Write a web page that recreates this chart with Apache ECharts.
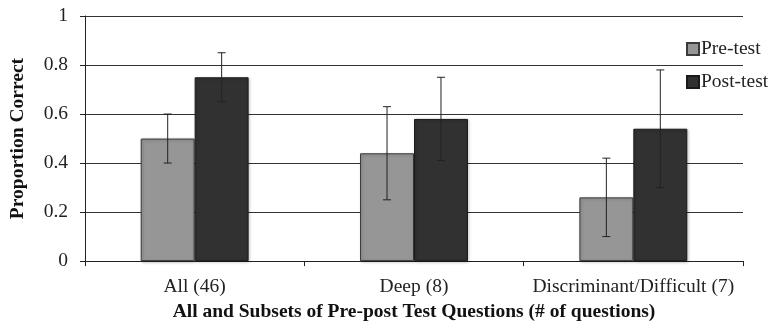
<!DOCTYPE html>
<html><head><meta charset="utf-8">
<script src="https://cdn.jsdelivr.net/npm/echarts@6/dist/echarts.min.js"></script>
<style>html,body{margin:0;padding:0;background:#fff}#c{width:771px;height:327px}</style>
</head><body><div id="c"></div>
<script>
const categories = ['All (46)', 'Deep (8)', 'Discriminant/Difficult (7)'];
const preTest = [0.50, 0.44, 0.26];
const postTest = [0.75, 0.58, 0.54];
const preLow = [0.40, 0.25, 0.10];
const preHigh = [0.60, 0.63, 0.42];
const postLow = [0.65, 0.41, 0.30];
const postHigh = [0.85, 0.75, 0.78];
const yTicks = [0, 0.2, 0.4, 0.6, 0.8, 1];

const BAR_FRAC = 0.246;
const font = 'Liberation Serif';

function errData(low, high) {
  return categories.map((c, i) => [i, low[i], high[i]]);
}
function errRender(sign) {
  return function (params, api) {
    const idx = api.value(0);
    const band = api.size([1, 0])[0];
    const off = sign * band * BAR_FRAC / 2;
    const lo = api.coord([idx, api.value(1)]);
    const hi = api.coord([idx, api.value(2)]);
    const x = lo[0] + off;
    const cap = 4;
    const style = { stroke: '#222', lineWidth: 1 };
    return {
      type: 'group',
      children: [
        { type: 'line', shape: { x1: x, y1: lo[1], x2: x, y2: hi[1] }, style },
        { type: 'line', shape: { x1: x - cap, y1: lo[1], x2: x + cap, y2: lo[1] }, style },
        { type: 'line', shape: { x1: x - cap, y1: hi[1], x2: x + cap, y2: hi[1] }, style }
      ]
    };
  };
}

const chart = echarts.init(document.getElementById('c'), null, { renderer: 'canvas' });
chart.setOption({
  animation: false,
  backgroundColor: '#fff',
  textStyle: { fontFamily: font },
  grid: { left: 84, right: 28, top: 16, bottom: 64, containLabel: false },
  legend: {
    orient: 'vertical',
    left: 681,
    top: 34,
    itemWidth: 12,
    itemHeight: 12,
    itemGap: 13,
    icon: 'rect',
    textStyle: { fontFamily: font, fontSize: 19.5, color: '#222', padding: [0, 0, 0, -3] },
    data: ['Pre-test', 'Post-test']
  },
  xAxis: {
    type: 'category',
    data: categories,
    axisLine: { lineStyle: { color: '#222', width: 1 } },
    axisTick: { show: true, interval: 0, length: 5, lineStyle: { color: '#222' } },
    axisLabel: { interval: 0, hideOverlap: false, fontFamily: font, fontSize: 19.5, color: '#222', margin: 16 },
    name: 'All and Subsets of Pre-post Test Questions (# of questions)',
    nameLocation: 'middle',
    nameGap: 37,
    nameTextStyle: { fontFamily: font, fontSize: 19.5, fontWeight: 'bold', color: '#111' }
  },
  yAxis: {
    type: 'value',
    min: 0,
    max: 1,
    interval: 0.2,
    axisLine: { show: true, lineStyle: { color: '#222', width: 1 } },
    axisTick: { show: true, length: 5, lineStyle: { color: '#222' } },
    splitLine: { lineStyle: { color: '#333', width: 1 } },
    axisLabel: {
      fontFamily: font, fontSize: 19.5, color: '#222', margin: 17,
      formatter: v => { const t = yTicks.find(x => Math.abs(x - v) < 1e-9); return t === undefined ? '' : String(t); }
    },
    name: 'Proportion Correct',
    nameLocation: 'middle',
    nameGap: 57,
    nameTextStyle: { fontFamily: font, fontSize: 19.5, fontWeight: 'bold', color: '#111' }
  },
  series: [
    {
      name: 'Pre-test', type: 'bar', data: preTest, barWidth: (BAR_FRAC * 100) + '%', barGap: '0%',
      itemStyle: { color: '#969696', borderColor: '#3a3a3a', borderWidth: 1, shadowColor: 'rgba(0,0,0,0.25)', shadowBlur: 3, shadowOffsetX: 1, shadowOffsetY: 1 }
    },
    {
      name: 'Post-test', type: 'bar', data: postTest, barWidth: (BAR_FRAC * 100) + '%', barGap: '0%',
      itemStyle: { color: '#323132', borderColor: '#1a1a1a', borderWidth: 1, shadowColor: 'rgba(0,0,0,0.25)', shadowBlur: 3, shadowOffsetX: 1, shadowOffsetY: 1 }
    },
    { type: 'custom', renderItem: errRender(-1), data: errData(preLow, preHigh), z: 10, encode: { x: 0, y: [1, 2] } },
    { type: 'custom', renderItem: errRender(1), data: errData(postLow, postHigh), z: 10, encode: { x: 0, y: [1, 2] } }
  ]
});
</script></body></html>
